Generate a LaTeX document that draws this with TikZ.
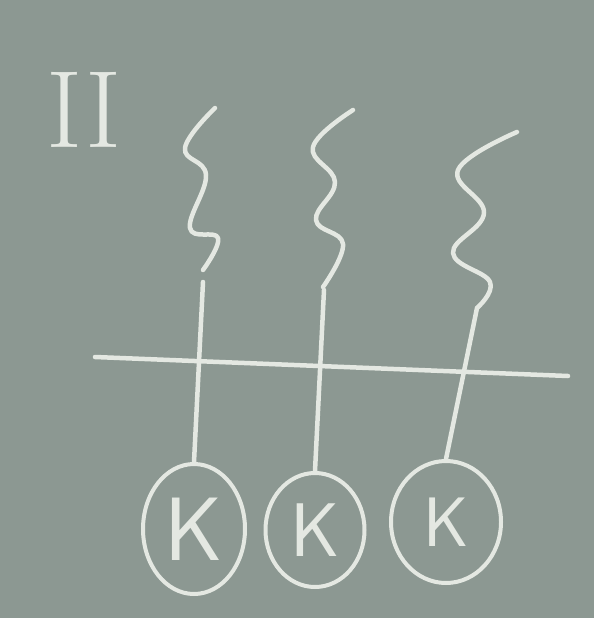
\documentclass[tikz,border=0pt]{standalone}
\usepackage{tikz}
\usetikzlibrary{shapes.geometric}
\definecolor{boardgreen}{HTML}{8C9892}
\definecolor{chalk}{HTML}{E4E8E2}
\tikzset{
  chalkline/.style={draw=chalk, line width=4.5pt, line cap=round, line join=round},
  chalkatom/.style={ellipse, chalkline, line width=4pt, inner sep=0pt, text=chalk,
    font=\sffamily\fontsize{90}{90}\selectfont},
  chalknum/.style={text=chalk, font=\fontsize{110}{110}\selectfont, inner sep=0pt},
}

\begin{document}
\begin{tikzpicture}[x=1pt, y=-1pt]
  \fill[boardgreen] (0,0) rectangle (594,618);
  \node[chalknum] (num) at (84,110) {II};
  % atoms
  \node[chalkatom, minimum width=102pt, minimum height=130pt] (k1) at (194,529) {K};
  \node[chalkatom, minimum width=99pt, minimum height=114pt, font=\sffamily\fontsize{76}{76}\selectfont] (k2) at (315,530) {K};
  \node[chalkatom, minimum width=110pt, minimum height=122pt, font=\sffamily\fontsize{70}{70}\selectfont] (k3) at (446,522) {K};
  % wavy photons
  \draw[chalkline] plot[smooth, tension=0.7] coordinates {(215,108) (185,148) (206,175) (190,228) (218,238) (203,270)};
  \draw[chalkline] plot[smooth, tension=0.7] coordinates {(353,110) (313,147) (335,182) (316,220) (343,244) (323,287)};
  \draw[chalkline] plot[smooth, tension=0.7] coordinates {(517,132) (458,170) (484,213) (453,253) (490,282) (477,308)};
  \coordinate (p1) at (203,282);
  \coordinate (p2) at (324,290);
  \coordinate (p3) at (477,308);
  % surface
  \coordinate (sl) at (95,357);
  \coordinate (sr) at (568,376);
  \draw[chalkline] (sl) -- (sr);
  \foreach \p/\k in {p1/k1,p2/k2,p3/k3} \draw[chalkline] (\p) -- (\k.north);
\end{tikzpicture}
\end{document}
